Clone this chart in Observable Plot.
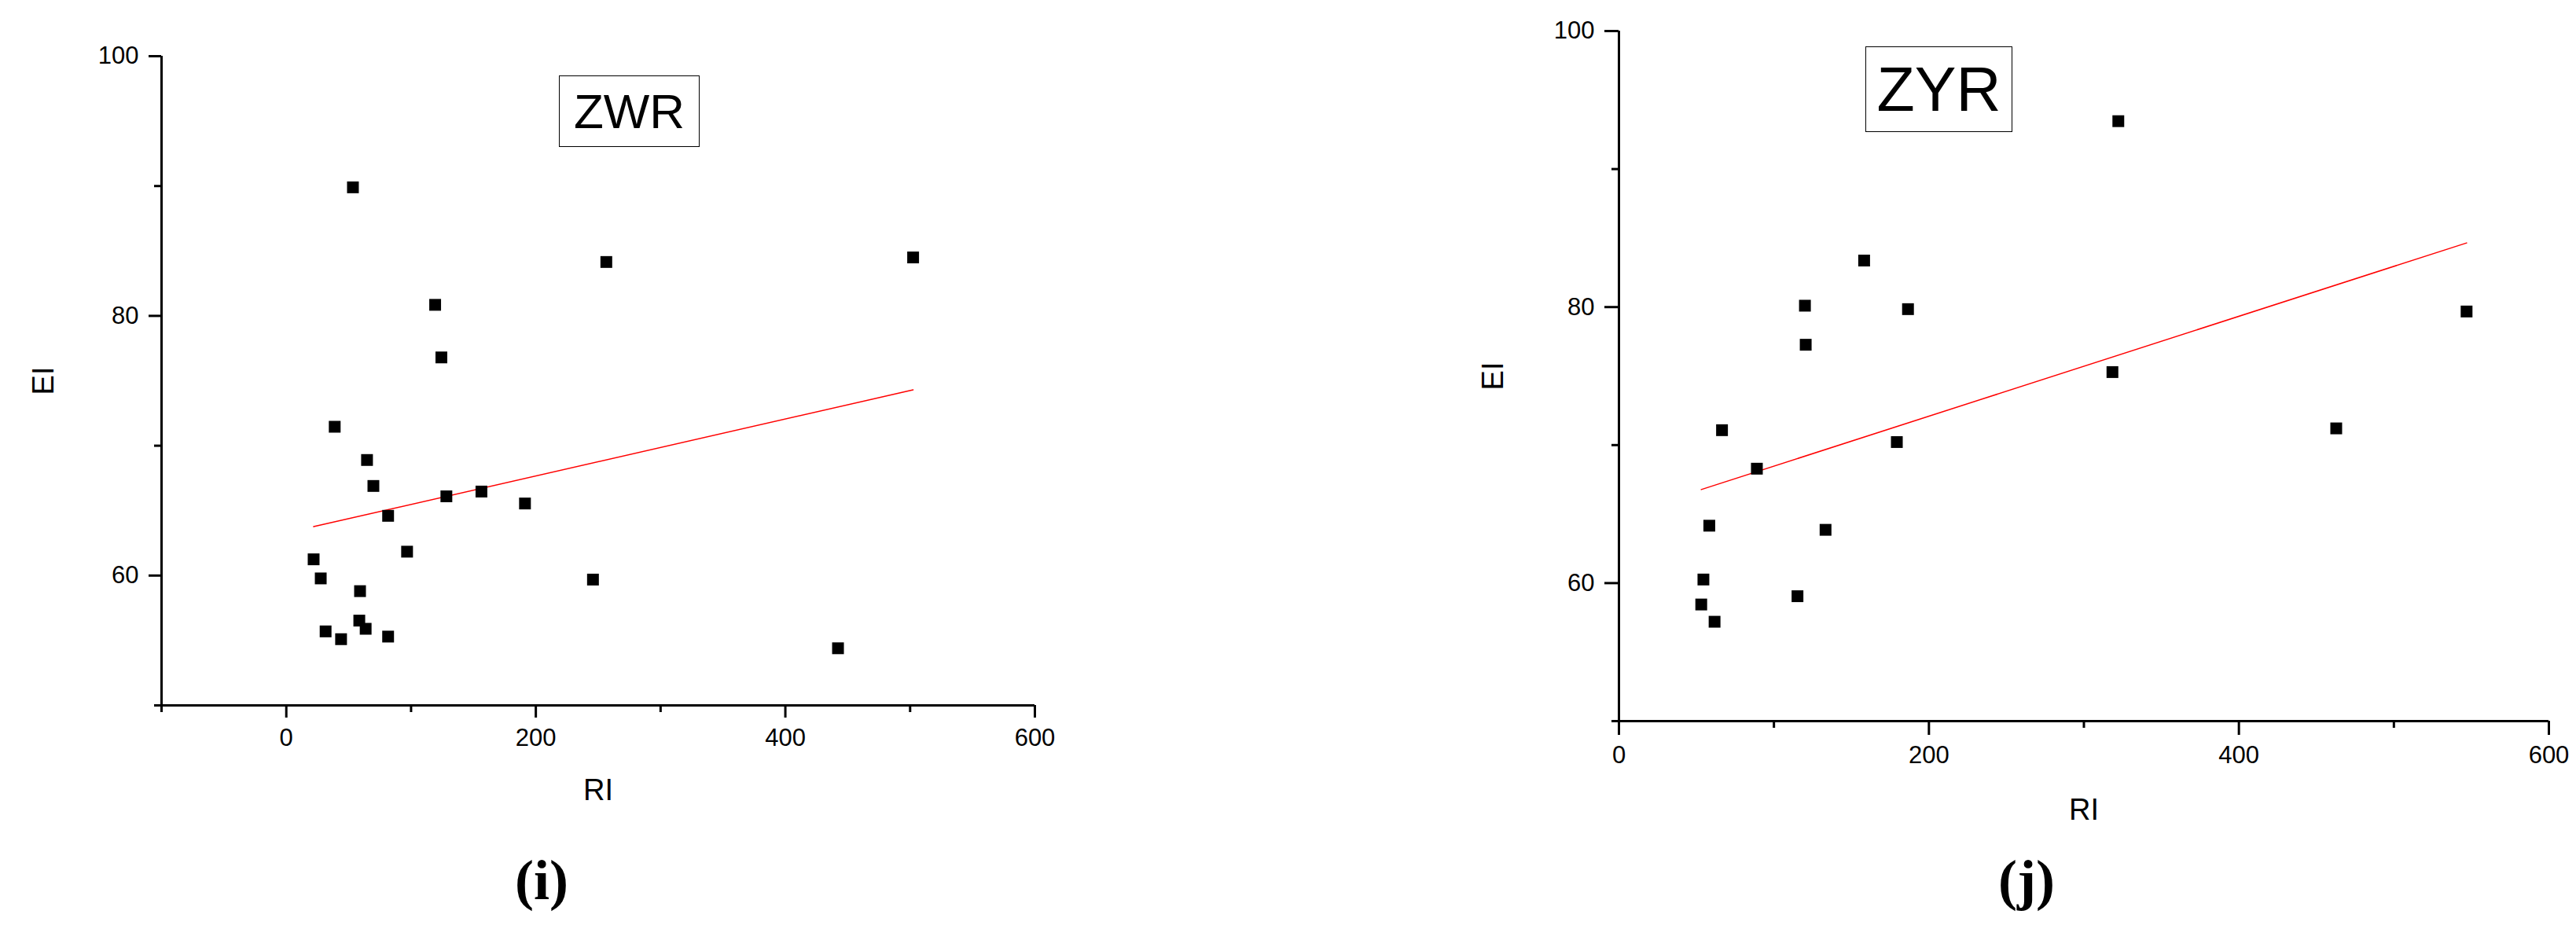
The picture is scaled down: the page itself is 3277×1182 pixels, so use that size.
<!DOCTYPE html>
<html>
<head>
<meta charset="utf-8">
<script src="https://cdn.jsdelivr.net/npm/d3@7"></script>
<script src="https://cdn.jsdelivr.net/npm/@observablehq/plot@0.6"></script>
<style>
  html, body { margin: 0; padding: 0; background: #fff; }
  #page { position: relative; width: 3277px; height: 1182px; overflow: hidden; background: #fff;
          font-family: "Liberation Sans", Arial, sans-serif; color: #000; }
  .panel { position: absolute; top: 0; }
  .tag { position: absolute; box-sizing: border-box; border: 1.5px solid #000; display: flex;
         align-items: center; justify-content: center; line-height: 1; color: #000; background: #fff;
         font-family: "Liberation Sans", Arial, sans-serif; }
  .cap { position: absolute; width: 200px; text-align: center; line-height: 1;
         font-family: "Liberation Serif", "Times New Roman", serif; font-weight: bold; font-size: 72px; color: #000; }
</style>
</head>
<body>
<div id="page">
  <div id="left" class="panel" style="left:0px"></div>
  <div id="right" class="panel" style="left:1640px"></div>
  <div class="tag" style="left:711px;top:96px;width:179px;height:91px;font-size:62px;">ZWR</div>
  <div class="tag" style="left:2373px;top:59px;width:187px;height:109px;font-size:79px;">ZYR</div>
  <div class="cap" style="left:589px;top:1084px;">(i)</div>
  <div class="cap" style="left:2478px;top:1084px;">(j)</div>
</div>
<script>
// ---- data ----
const zwrRI = [53.4, 256.5, 502.4, 119.3, 124.3, 38.8, 64.7, 69.8, 128.3, 156.4, 191.3, 81.6,
               96.8, 21.9, 27.6, 245.8, 59.1, 58.5, 31.5, 63.6, 43.9, 81.6, 442.2];
const zwrEI = [89.9, 84.15, 84.5, 80.85, 76.8, 71.46, 68.9, 66.9, 66.1, 66.47, 65.55, 64.6,
               61.84, 61.25, 59.78, 59.69, 58.8, 56.53, 55.7, 55.9, 55.1, 55.3, 54.4];
const zyrRI = [322.2, 158.2, 120.0, 186.5, 546.9, 120.5, 318.4, 66.5, 462.8, 179.3, 89.0, 58.3,
               133.3, 54.5, 53.1, 115.2, 61.7];
const zyrEI = [93.47, 83.37, 80.1, 79.85, 79.68, 77.27, 75.29, 71.08, 71.21, 70.22, 68.29, 64.16,
               63.86, 60.26, 58.45, 59.05, 57.2];
const xMajorTicks = [0, 200, 400, 600];
const xMinorTicksZWR = [-100, 100, 300, 500];
const xMinorTicksZYR = [100, 300, 500];
const yMajorTicks = [60, 80, 100];
const yMinorTicks = [50, 70, 90];
const xDomainZWR = [-100, 600];
const xDomainZYR = [0, 600];
const yDomain = [50, 100];

function makePanel(ri, ei, o) {
  const pts = ri.map((d, i) => ({RI: d, EI: ei[i]}));
  return Plot.plot({
    width: o.width, height: 1182,
    marginTop: o.mt, marginRight: o.mr, marginBottom: o.mb, marginLeft: o.ml,
    style: {fontFamily: '"Liberation Sans", Arial, sans-serif', color: "#000", background: "#fff", overflow: "visible"},
    x: {domain: o.xDomain},
    y: {domain: yDomain},
    marks: [
      Plot.ruleX([o.xDomain[0]], {strokeWidth: 3}),
      Plot.ruleY([yDomain[0]], {strokeWidth: 3}),
      Plot.axisX(xMajorTicks, {tickSize: o.major, tickPadding: 13, strokeWidth: 3, fontSize: 31, label: null}),
      Plot.axisX(o.xMinor, {tickSize: 9, strokeWidth: 3, fill: "none", label: null}),
      Plot.axisX([], {tickSize: 0, label: "RI", labelAnchor: "center", labelArrow: "none", labelOffset: o.xl, fontSize: 38}),
      Plot.axisY(yMajorTicks, {tickSize: o.major, tickPadding: 13, strokeWidth: 3, fontSize: 31, label: null}),
      Plot.axisY(yMinorTicks, {tickSize: 9, strokeWidth: 3, fill: "none", label: null}),
      Plot.axisY([], {tickSize: 0, label: "EI", labelAnchor: "center", labelArrow: "none", labelOffset: o.yl, fontSize: 38}),
      Plot.linearRegressionY(pts, {x: "RI", y: "EI", stroke: "#ff0000", strokeWidth: 1.5, ci: 0}),
      Plot.dot(pts, {x: "RI", y: "EI", symbol: "square", r: 8.46, fill: "#000"})
    ]
  });
}

document.getElementById("left").append(makePanel(zwrRI, zwrEI, {
  width: 1640, mt: 71, mr: 324, mb: 285, ml: 205,
  xDomain: xDomainZWR, xMinor: xMinorTicksZWR, major: 16, xl: 120, yl: 164
}));
document.getElementById("right").append(makePanel(zyrRI, zyrEI, {
  width: 1637, mt: 39, mr: 35, mb: 265, ml: 419,
  xDomain: xDomainZYR, xMinor: xMinorTicksZYR, major: 18, xl: 125, yl: 174
}));
</script>
</body>
</html>
